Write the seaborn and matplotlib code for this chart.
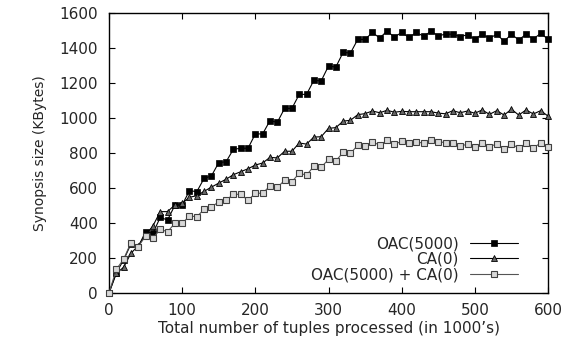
import numpy as np
import pandas as pd
import seaborn as sns
import matplotlib
matplotlib.use("Agg")
import matplotlib.pyplot as plt

x_vals = list(range(0, 601, 10))

oac_5000 = [0, 116, 189, 280, 265, 350, 341, 432, 417, 501, 503, 585, 579, 655, 669,
            745, 750, 821, 827, 827, 909, 909, 985, 975, 1055, 1055, 1135, 1135, 1215, 1212,
            1297, 1291, 1375, 1371, 1449, 1449, 1489, 1457, 1497, 1462, 1489, 1460, 1489, 1467,
            1495, 1470, 1479, 1479, 1465, 1476, 1450, 1479, 1455, 1479, 1438, 1479, 1446, 1479,
            1451, 1484, 1450]

ca_0 = [0, 112, 147, 227, 270, 331, 383, 465, 465, 503, 512, 547, 556, 581, 605,
        628, 650, 676, 693, 710, 731, 743, 775, 772, 810, 810, 857, 851, 891, 893,
        941, 945, 982, 987, 1019, 1025, 1040, 1030, 1044, 1033, 1038, 1036, 1036, 1036,
        1036, 1028, 1024, 1042, 1030, 1040, 1027, 1046, 1021, 1042, 1017, 1050, 1017, 1046,
        1023, 1042, 1011]

oac_ca = [0, 135, 193, 288, 265, 326, 312, 364, 350, 398, 398, 440, 436, 478, 490,
          522, 530, 564, 564, 530, 570, 570, 612, 603, 644, 636, 684, 674, 724, 719,
          763, 755, 803, 798, 844, 838, 865, 844, 872, 849, 867, 855, 865, 855,
          874, 865, 859, 859, 840, 850, 832, 855, 836, 852, 821, 852, 827, 855,
          827, 859, 832]

labels = ["OAC(5000)", "CA(0)", "OAC(5000) + CA(0)"]
x_ticks = [0, 100, 200, 300, 400, 500, 600]
y_ticks = [0, 200, 400, 600, 800, 1000, 1200, 1400, 1600]

sns.set_style("ticks")
plt.rcParams["font.family"] = ["DejaVu Sans"]
plt.rcParams["xtick.direction"] = "in"
plt.rcParams["ytick.direction"] = "in"

fig = plt.figure(figsize=(5.81, 3.44), dpi=100)
ax = fig.add_axes([109 / 581, 51 / 344, 439 / 581, 280 / 344])

styles = [
    dict(color="black", marker="s", markersize=4.2, markerfacecolor="black",
         markeredgecolor="black", markeredgewidth=0.5),
    dict(color="black", marker="^", markersize=3.8, markerfacecolor="#666666",
         markeredgecolor="black", markeredgewidth=0.6),
    dict(color="#555555", marker="s", markersize=4.0, markerfacecolor="#d8d8d8",
         markeredgecolor="#404040", markeredgewidth=0.8),
]
for vals, lab, st in zip([oac_5000, ca_0, oac_ca], labels, styles):
    df = pd.DataFrame({"x": x_vals, "y": vals})
    sns.lineplot(data=df, x="x", y="y", ax=ax, label=lab, linewidth=0.8,
                 clip_on=False, zorder=3, **st)

ax.set_xlim(0, 600)
ax.set_ylim(0, 1600)
ax.set_xticks(x_ticks)
ax.set_yticks(y_ticks)
ax.tick_params(axis="both", which="both", top=True, right=True, length=4,
               width=0.8, labelsize=11, color="black")
ax.tick_params(axis="y", pad=8)
ax.tick_params(axis="x", pad=7)
for s in ax.spines.values():
    s.set_linewidth(1.0)
    s.set_color("black")

ax.set_xlabel("Total number of tuples processed (in 1000\u2019s)", fontsize=11, labelpad=2)
ax.set_ylabel("Synopsis size (KBytes)", fontsize=10, labelpad=9)

leg = ax.legend(loc="lower right", bbox_to_anchor=(0.95, 0.012), frameon=False,
                markerfirst=False, fontsize=11, handlelength=3.2, labelspacing=0.02,
                borderpad=0.0, handletextpad=0.7)

fig.savefig("out.png", dpi=100)
